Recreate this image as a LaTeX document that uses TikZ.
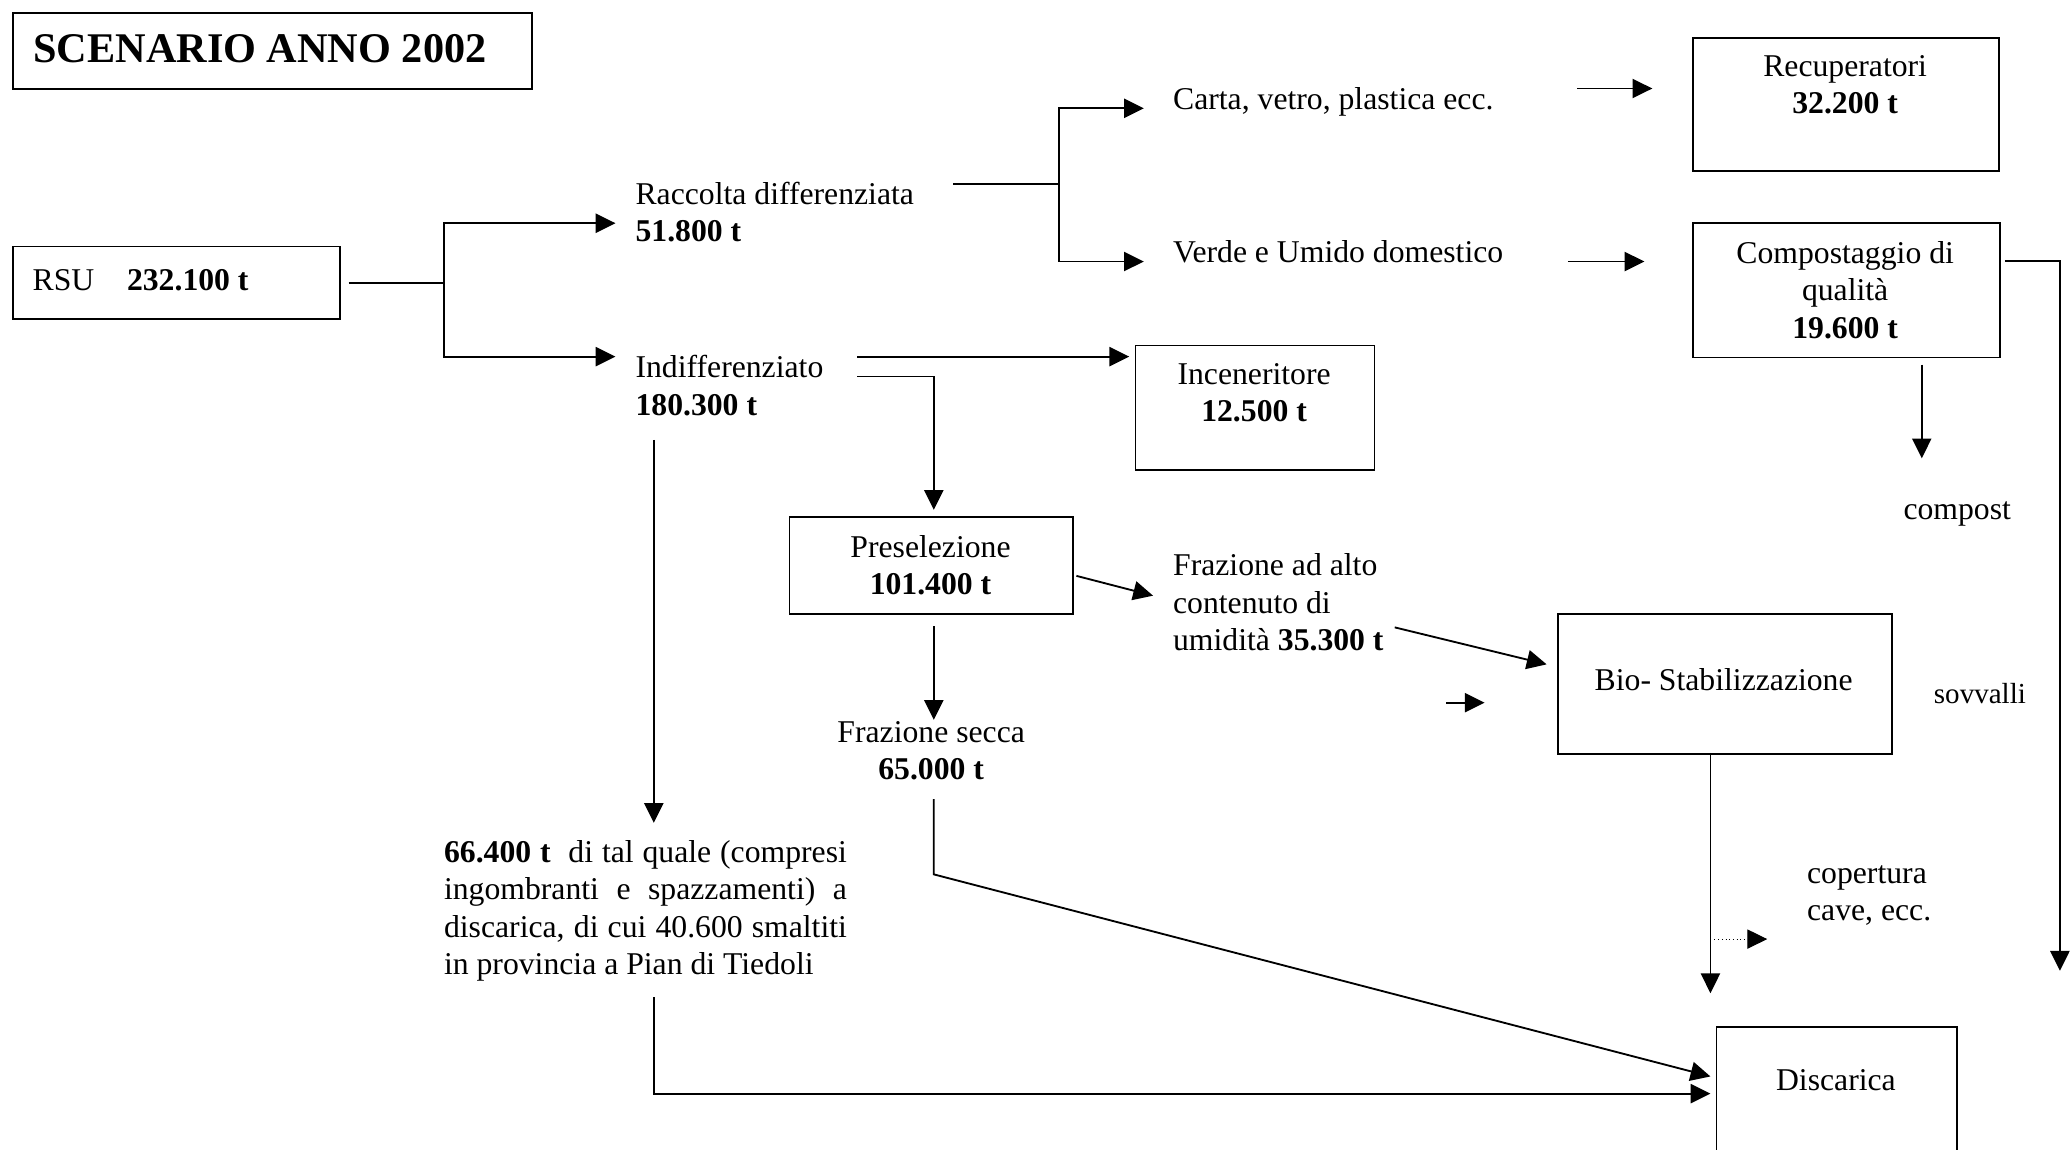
\documentclass[tikz,border=0pt]{standalone}
\usepackage{fontspec}
\setmainfont{Liberation Serif}
\usetikzlibrary{arrows.meta}
\newcommand\mlines[2][c]{\begin{tabular}[t]{@{}#1@{}}#2\end{tabular}}
\begin{document}
\begin{tikzpicture}[x=1pt,y=-1pt,
  box/.style={draw, line width=1.3pt, rectangle, anchor=north west, inner sep=0pt},
  lbl/.style={inner sep=0pt, font=\fontsize{24}{28.3}\selectfont},
  arr/.style={line width=1.4pt, -{Triangle[length=15pt,width=14.5pt]}},
  ln/.style={line width=1.4pt}]
\useasboundingbox (0,0) rectangle (1568,870);
\clip (0,0) rectangle (1568,870);
\fill[white] (0,0) rectangle (1568,870);

% boxes
\node[box, minimum width=393pt, minimum height=58pt] (title) at (9,9) {};
\node[box, minimum width=248pt, minimum height=55pt] (rsu) at (9,186) {};
\node[box, minimum width=232pt, minimum height=101pt] (rec) at (1281,28) {};
\node[box, minimum width=232.5pt, minimum height=101.7pt] (comp) at (1281,168.3) {};
\node[box, minimum width=181pt, minimum height=94pt] (inc) at (859,261) {};
\node[box, minimum width=215pt, minimum height=73pt] (pres) at (597,391) {};
\node[box, minimum width=253pt, minimum height=106pt] (bio) at (1179,464) {};
\node[box, minimum width=182pt, minimum height=150pt] (disc) at (1299,777) {};

% texts
\node[lbl, anchor=base west] (titletxt) at (25,47.6) {\fontsize{32}{38}\selectfont\bfseries SCENARIO ANNO 2002};
\node[lbl, anchor=base west] (rsutxt) at (24.5,220) {RSU\hspace{24.8pt}\textbf{232.100 t}};
\node[lbl, anchor=base west] (racc) at (481,154.7) {\mlines[l]{Raccolta differenziata\\\textbf{51.800 t}}};
\node[lbl, anchor=base west] (indiff) at (481,286) {\mlines[l]{Indifferenziato\\\textbf{180.300 t}}};
\node[lbl, anchor=base west] (carta) at (888,83) {Carta, vetro, plastica ecc.};
\node[lbl, anchor=base west] (verde) at (888,199) {Verde e Umido domestico};
\node[lbl, anchor=base] (rectxt) at (1397,58) {\mlines{Recuperatori\\\textbf{32.200 t}}};
\node[lbl, anchor=base] (comptxt) at (1397,199.4) {\mlines{Compostaggio di\\qualità\\\textbf{19.600 t}}};
\node[lbl, anchor=base] (inctxt) at (949.5,291) {\mlines{Inceneritore\\\textbf{12.500 t}}};
\node[lbl, anchor=base] (prestxt) at (704.5,422) {\mlines{Preselezione\\\textbf{101.400 t}}};
\node[lbl, anchor=base west] (alto) at (888,436) {\mlines[l]{Frazione ad alto\\contenuto di\\umidità \textbf{35.300 t}}};
\node[lbl, anchor=base] (biotxt) at (1305,523) {Bio- Stabilizzazione};
\node[lbl, anchor=base west, font=\fontsize{22}{26}\selectfont] (sovv) at (1464,533) {sovvalli};
\node[lbl, anchor=base west] (compost) at (1441,393) {compost};
\node[lbl, anchor=base west] (cop) at (1368,669) {\mlines[l]{copertura\\cave, ecc.}};
\node[lbl, anchor=base] (disctxt) at (1390,826) {Discarica};
\node[lbl, anchor=base] (secca) at (705,562) {\mlines{Frazione secca\\\textbf{65.000 t}}};
\node[lbl, anchor=base west] (para) at (336,653) {\mlines[l]{%
  \makebox[305pt][s]{\textbf{66.400 t}\ \ di tal quale (compresi}\\
  \makebox[305pt][s]{ingombranti e spazzamenti) a}\\
  \makebox[305pt][s]{discarica, di cui 40.600 smaltiti}\\
  in provincia a Pian di Tiedoli}};

% coordinates (free ends)
\coordinate (tr) at (466,169);
\coordinate (ti) at (466,270);
\coordinate (r0) at (721.6,139.3);
\coordinate (r1) at (802,139.3);
\coordinate (tc) at (866,82);
\coordinate (tv) at (866,198);
\coordinate (c1) at (1194,67);
\coordinate (v1) at (1187,198);
\coordinate (s0) at (1518,197.4);
\coordinate (s1) at (1559.6,735);
\coordinate (cp0) at (1455,276);
\coordinate (cp1) at (1455,347);
\coordinate (i1) at (649,270);
\coordinate (i2) at (649,285);
\coordinate (p0) at (707,386);
\coordinate (d0) at (815,436);
\coordinate (d1) at (873,451);
\coordinate (a0) at (1056,475);
\coordinate (a1) at (1171,503);
\coordinate (m0) at (1095,532);
\coordinate (m1) at (1124,532);
\coordinate (b0) at (1295,570);
\coordinate (b1) at (1295,752);
\coordinate (o0) at (1298,711);
\coordinate (o1) at (1338,711);
\coordinate (q0) at (707,474);
\coordinate (q1) at (707,545);
\coordinate (f0) at (707,605);
\coordinate (f1) at (707,662);
\coordinate (f2) at (1295,815);
\coordinate (g0) at (495,333);
\coordinate (g1) at (495,623);
\coordinate (h0) at (495,755);
\coordinate (h1) at (1295,828);

% connectors
\draw[ln] ([xshift=5.6pt]rsu.east) -- ++(72.4,0) coordinate (fk);
\draw[arr] (fk) |- (tr);
\draw[arr] (fk) |- (ti);
\draw[ln] (r0) -- (r1);
\draw[arr] (r1) |- (tc);
\draw[arr] (r1) |- (tv);
\draw[arr, shorten >=30pt] (c1) -- (c1 -| rec.west);
\draw[arr, shorten >=36pt] (v1) -- (v1 -| comp.west);
\draw[arr] (s0) -| (s1);
\draw[arr] (cp0) -- (cp1);
\draw[arr, shorten >=4pt] (i1) -- (i1 -| inc.west);
\draw[arr] (i2) -| (p0);
\draw[arr] (d0) -- (d1);
\draw[arr] (a0) -- (a1);
\draw[arr] (m0) -- (m1);
\draw[arr] (b0) -- (b1);
\draw[dotted, line width=0.8pt, -{Triangle[length=15pt,width=14.5pt]}] (o0) -- (o1);
\draw[arr] (q0) -- (q1);
\draw[arr] (f0) -- (f1) -- (f2);
\draw[arr] (g0) -- (g1);
\draw[arr] (h0) |- (h1);
\end{tikzpicture}
\end{document}
